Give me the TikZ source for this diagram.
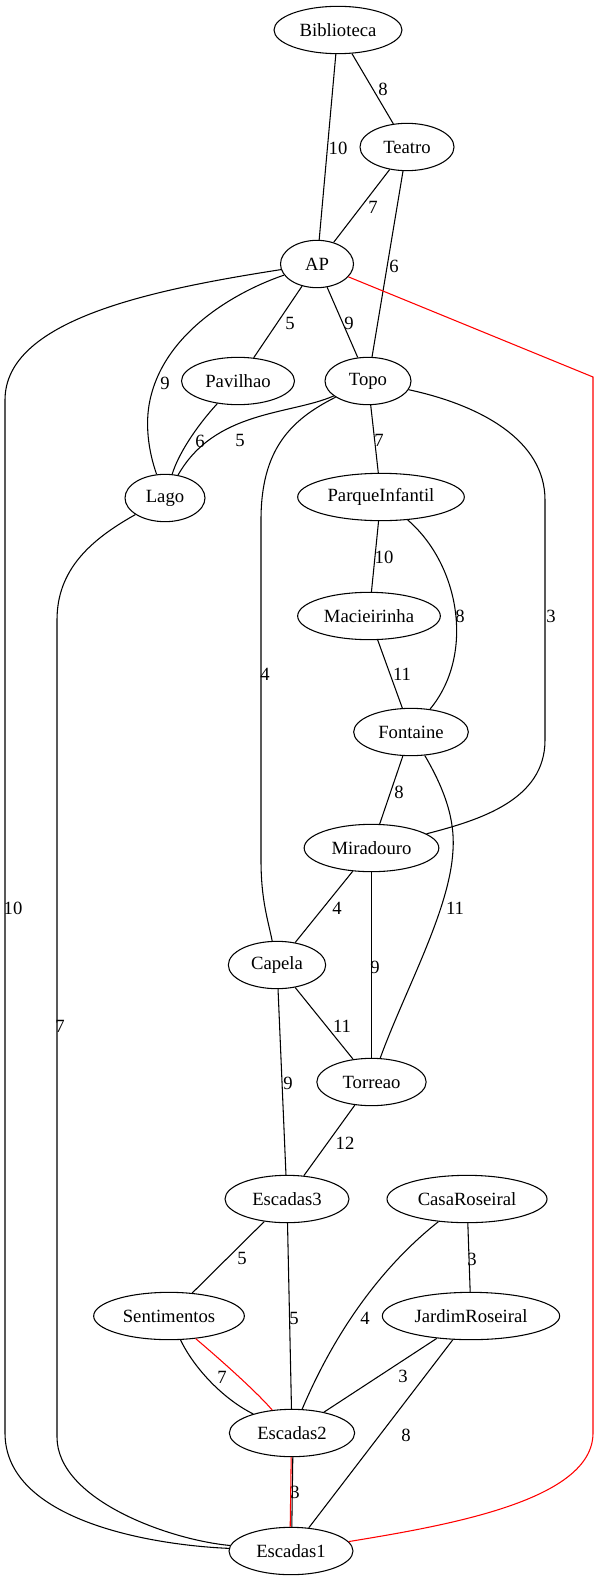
\documentclass[tikz,border=0pt]{standalone}
\usepackage{fontspec}
\setmainfont{Liberation Serif}
\usetikzlibrary{shapes.geometric}

\tikzset{
  place/.style={ellipse, draw, line width=0.8pt, inner sep=0pt,
                minimum height=35.5pt, font=\fontsize{14pt}{16pt}\selectfont},
  wt/.style={inner sep=0pt, font=\fontsize{14pt}{16pt}\selectfont},
  link/.style={draw, line width=0.8pt},
  route/.style={draw=red, line width=0.8pt},
}

\begin{document}
\begin{tikzpicture}[x=0.75pt, y=-0.75pt]
\useasboundingbox (0,0) rectangle (599,1580);

% places
\node[place, minimum width=96pt]    (Biblioteca)     at (338,30)   {Biblioteca};
\node[place, minimum width=70.5pt]  (Teatro)         at (407,147)  {Teatro};
\node[place, minimum width=54.75pt] (AP)             at (317,264)  {AP};
\node[place, minimum width=84.75pt] (Pavilhao)       at (238,381)  {Pavilhao};
\node[place, minimum width=64.5pt]  (Topo)           at (368,381)  {Topo};
\node[place, minimum width=60pt]    (Lago)           at (165,498)  {Lago};
\node[place, minimum width=125pt]   (ParqueInfantil) at (381,497)  {ParqueInfantil};
\node[place, minimum width=107pt]   (Macieirinha)    at (369,616)  {Macieirinha};
\node[place, minimum width=86pt]    (Fontaine)       at (411,732)  {Fontaine};
\node[place, minimum width=101pt]   (Miradouro)      at (371.5,848)  {Miradouro};
\node[place, minimum width=73pt]    (Capela)         at (277,965)  {Capela};
\node[place, minimum width=82pt]    (Torreao)        at (371.5,1082) {Torreao};
\node[place, minimum width=93pt]    (Escadas3)       at (287,1199) {Escadas3};
\node[place, minimum width=120pt]   (CasaRoseiral)   at (467,1199) {CasaRoseiral};
\node[place, minimum width=113pt]   (Sentimentos)    at (169,1316) {Sentimentos};
\node[place, minimum width=133pt]   (JardimRoseiral) at (471,1316) {JardimRoseiral};
\node[place, minimum width=94pt]    (Escadas2)       at (292,1433) {Escadas2};
\node[place, minimum width=93pt]    (Escadas1)       at (291,1551) {Escadas1};

% connections
\path[link] (Biblioteca) -- (AP);
\path[link] (Biblioteca) -- (Teatro);
\path[link] (Teatro) -- (AP);
\path[link] (Teatro) -- (Topo);
\path[link] (AP) -- (Pavilhao);
\path[link] (AP) -- (Topo);
\path[link] (AP) .. controls (240,290) and (165,330) .. (150,400)
            .. controls (145,423) and (148,450) .. (Lago);
\path[link] (AP) .. controls (150,290) and (5,320) .. (5,400) -- (5,1433)
            .. controls (5,1520) and (150,1545) .. (Escadas1);
\path[route] (AP) -- (593,377) -- (593,1433)
            .. controls (593,1500) and (450,1525) .. (Escadas1);
\path[link] (Pavilhao) .. controls (195,428) and (178,455) .. (Lago);
\path[link] (Topo) .. controls (290,415) and (215,410) .. (Lago);
\path[link] (Topo) -- (ParqueInfantil);
\path[link] (Topo) .. controls (290,420) and (261,450) .. (261,520) -- (261,860)
            .. controls (261,900) and (268,920) .. (Capela);
\path[link] (Topo) .. controls (480,405) and (545,440) .. (545,500) -- (545,740)
            .. controls (545,800) and (480,820) .. (Miradouro);
\path[link] (ParqueInfantil) -- (Macieirinha);
\path[link] (ParqueInfantil) .. controls (460,565) and (475,655) .. (Fontaine);
\path[link] (Macieirinha) -- (Fontaine);
\path[link] (Fontaine) -- (Miradouro);
\path[link] (Fontaine) .. controls (445,790) and (455,820) .. (453,850)
            .. controls (450,910) and (405,990) .. (Torreao);
\path[link] (Miradouro) -- (Capela);
\path[link] (Miradouro) -- (Torreao);
\path[link] (Capela) -- (Torreao);
\path[link] (Capela) -- (Escadas3);
\path[link] (Torreao) -- (Escadas3);
\path[link] (Escadas3) -- (Sentimentos);
\path[link] (Escadas3) -- (Escadas2);
\path[link] (CasaRoseiral) .. controls (390,1260) and (340,1320) .. (Escadas2);
\path[link] (CasaRoseiral) -- (JardimRoseiral);
\path[link] (Sentimentos) .. controls (195,1370) and (225,1400) .. (Escadas2);
\path[route] (Sentimentos) .. controls (215,1355) and (255,1390) .. (Escadas2);
\path[link] (JardimRoseiral) -- (Escadas2);
\path[link] (JardimRoseiral) -- (Escadas1);
\path[link] ([xshift=0.6pt]Escadas2.south) -- ([xshift=0.6pt]Escadas1.north);
\path[route] ([xshift=-0.6pt]Escadas2.south) -- ([xshift=-0.6pt]Escadas1.north);
\path[link] (Lago) .. controls (90,540) and (57,570) .. (57,620) -- (57,1437)
            .. controls (57,1500) and (170,1540) .. (Escadas1);

% weights
\node[wt] (wBibAP)    at (338,148)  {10};
\node[wt] (wBibTea)   at (383,89)   {8};
\node[wt] (wTeaAP)    at (373,207)  {7};
\node[wt] (wTeaTopo)  at (394,266)  {6};
\node[wt] (wAPPav)    at (290,323)  {5};
\node[wt] (wAPTopo)   at (349,323)  {9};
\node[wt] (wAPLago)   at (165,383)  {9};
\node[wt] (wAPEsc1)   at (13,908)   {10};
\node[wt] (wPavLago)  at (200,441)  {6};
\node[wt] (wTopoLago) at (240,440)  {5};
\node[wt] (wTopoPI)   at (379,440)  {7};
\node[wt] (wTopoCap)  at (265,674)  {4};
\node[wt] (wTopoMir)  at (551,616)  {3};
\node[wt] (wPIMac)    at (384,557)  {10};
\node[wt] (wPIFon)    at (460,616)  {8};
\node[wt] (wMacFon)   at (402,674)  {11};
\node[wt] (wFonMir)   at (399,792)  {8};
\node[wt] (wFonTor)   at (455,908)  {11};
\node[wt] (wMirCap)   at (337,908)  {4};
\node[wt] (wMirTor)   at (375,967)  {9};
\node[wt] (wCapTor)   at (342,1026) {11};
\node[wt] (wCapEsc3)  at (288,1083) {9};
\node[wt] (wTorEsc3)  at (345,1143) {12};
\node[wt] (wEsc3Sen)  at (242,1258) {5};
\node[wt] (wEsc3Esc2) at (294,1318) {5};
\node[wt] (wCasEsc2)  at (365,1318) {4};
\node[wt] (wCasJar)   at (472,1259) {3};
\node[wt] (wSenEsc2)  at (222,1377) {7};
\node[wt] (wJarEsc2)  at (403,1376) {3};
\node[wt] (wJarEsc1)  at (406,1435) {8};
\node[wt] (wEsc2Esc1) at (295,1492) {3};
\node[wt] (wLagoEsc1) at (60,1026)  {7};
\end{tikzpicture}
\end{document}
